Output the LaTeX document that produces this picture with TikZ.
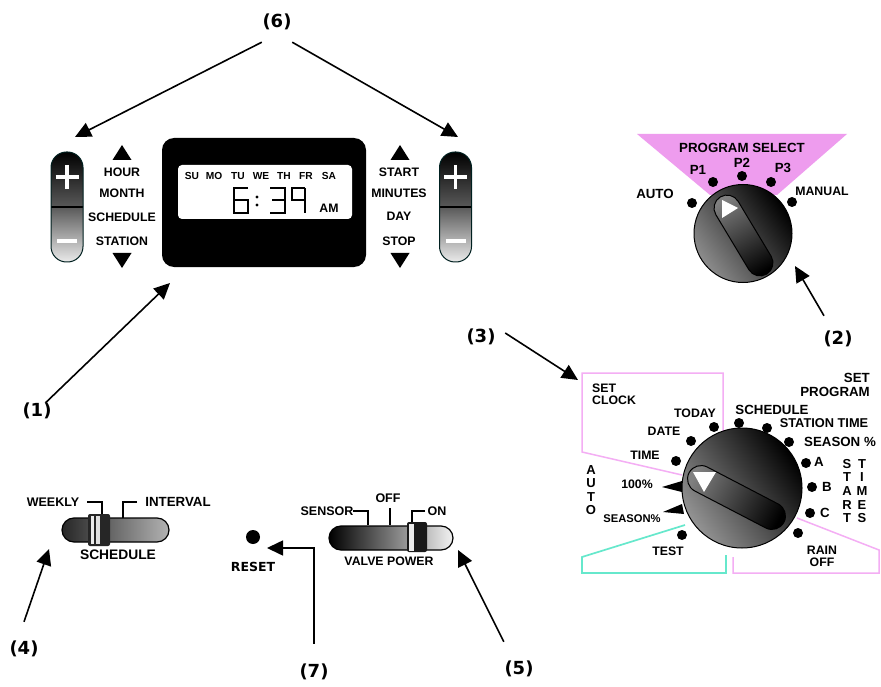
\documentclass[tikz,border=0pt]{standalone}
\usepackage{fontspec}
\setmainfont{Liberation Sans}
\newfontfamily\callfont{DejaVu Sans}
\usetikzlibrary{arrows.meta,calc}
\definecolor{pinkz}{HTML}{EE9CEE}
\definecolor{pinkl}{HTML}{F4AEF4}
\definecolor{tealz}{HTML}{66E8CC}
\tikzset{
  x=1pt,y=-1pt,
  lab/.style={inner sep=0pt,font=\fontsize{12.3}{12.3}\selectfont\bfseries},
  labb/.style={inner sep=0pt,font=\fontsize{13.3}{13.3}\selectfont\bfseries},
  labs/.style={inner sep=0pt,font=\fontsize{12.5}{12.5}\selectfont\bfseries},
  labm/.style={inner sep=0pt,font=\fontsize{13.3}{13.3}\selectfont\bfseries},
  vert/.style={inner sep=0pt,align=center,font=\fontsize{13}{13.6}\selectfont\bfseries},
  call/.style={inner sep=0pt,minimum width=30pt,minimum height=16pt,font=\callfont\fontsize{18}{18}\selectfont\bfseries},
  arr/.style={line width=1.6pt,-{Triangle[length=16pt,width=15pt]}},
  dotz/.style={fill=black,draw=none},
  tick/.style={line width=1.3pt},
  seg/.style={line width=2.1pt,line cap=butt,line join=miter},
}
\begin{document}
\begin{tikzpicture}
\useasboundingbox[fill=white] (0,0) rectangle (881,687);

% ---------- display
\node[fill=black,rounded corners=12pt,minimum width=204pt,minimum height=129pt,inner sep=0pt] (display) at (264,202.5) {};
\node[fill=white,rounded corners=4pt,minimum width=174pt,minimum height=54pt,inner sep=0pt] (lcd) at (265,192) {};
\foreach \t/\x/\n in {SU/192/a,MO/214/b,TU/238/c,WE/261/d,TH/284/e,FR/306/f,SA/329/g}
  \node[inner sep=0pt,font=\fontsize{10.2}{10.2}\selectfont\bfseries] (day\n) at (\x,176) {\t};
\draw[seg] (248,188) -- (234,188) -- (234,213) -- (248,213) -- (248,200) -- (234,200);
\fill (257,197) circle (1.6pt) (257,205) circle (1.6pt);
\draw[seg] (270,188) -- (285,188) -- (285,213) -- (270,213);
\draw[seg] (272,200) -- (285,200);
\draw[seg] (305,200) -- (292,200) -- (292,188) -- (305,188);
\draw[seg] (305,188) -- (305,213);
\node[lab] (am) at (329,208) {AM};

% ---------- left / right labels
\foreach \x/\n in {122/l,400/r}{
  \fill (\x,145) -- (\x+9.5,160) -- (\x-9.5,160) -- cycle;
  \fill (\x,268) -- (\x+9.5,253) -- (\x-9.5,253) -- cycle;
}
\node[lab] (hour) at (122,172) {HOUR};
\node[lab] (month) at (122,193) {MONTH};
\node[lab] (sched) at (122,217) {SCHEDULE};
\node[lab] (station) at (122,241) {STATION};
\node[lab] (start) at (399,172) {START};
\node[lab] (minutes) at (399,193) {MINUTES};
\node[lab] (dayl) at (399,216) {DAY};
\node[lab] (stop) at (399,241) {STOP};

% ---------- +/- rockers
\foreach \x in {51,439.5}{
  \begin{scope}
    \clip[rounded corners=15.5pt] (\x,152) rectangle (\x+32,262);
    \shade[top color=black,bottom color=black!65] (\x,152) rectangle (\x+32,207);
    \shade[top color=black!65,bottom color=black!8] (\x,207) rectangle (\x+32,262);
    \fill (\x,206) rectangle (\x+32,208);
  \end{scope}
  \draw[line width=1pt,draw=black!75!teal,rounded corners=15.5pt] (\x,152) rectangle (\x+32,262);
  \draw[white,line width=3.4pt] (\x+4.5,177) -- (\x+27.5,177) (\x+16,165) -- (\x+16,189);
  \draw[white,line width=3.2pt] (\x+6,241) -- (\x+26,241);
}

% ---------- PROGRAM SELECT dial
\fill[pinkz] (637,134) -- (847,134) -- (777,195) -- (710,195) -- cycle;
\node[labm] (psel) at (742,148) {PROGRAM SELECT};
\node[labb] (p1) at (698,170) {P1};
\node[labb] (p2) at (742,163) {P2};
\node[labb] (p3) at (783,168) {P3};
\node[labb] (auto1) at (655,194) {AUTO};
\node[lab] (manual) at (822,191) {MANUAL};
\foreach \x/\y in {713/182,742/176,771/182,692/203,792/202}
  \fill[dotz] (\x,\y) circle (5pt);
\shade[draw=black,line width=1pt,bottom color=black!45,middle color=black!65,top color=black,shading angle=-55] (743,233.5) circle (49pt);
\shade[draw=black,line width=1pt,rotate around={-59:(743.5,235.5)},rounded corners=13pt,
       top color=black,bottom color=black!50,shading angle=-149] (698.5,222.5) rectangle (788.5,248.5);
\fill[white] (722,200) -- (738,208) -- (722,218) -- cycle;

% ---------- main dial outlines
\draw[pinkl,line width=1.5pt] (682,475) -- (582,452) -- (582,373) -- (723,373) -- (723,432);
\draw[pinkl,line width=1.5pt] (797,518) -- (879,550) -- (879,573) -- (733,573) -- (733,557);
\draw[tealz,line width=1.7pt] (685,525) -- (582,557) -- (582,573) -- (726,573) -- (726,555);

\node[lab,align=left,anchor=west] (setclock) at (592,394.5) {SET\\CLOCK};
\node[labb,align=right,anchor=east] (setprog) at (870,385) {SET\\PROGRAM};
\node[lab] (today) at (695,413) {TODAY};
\node[lab] (date) at (664,431) {DATE};
\node[lab] (time) at (645,455) {TIME};
\node[labb] (schedd) at (772,410) {SCHEDULE};
\node[labb,font=\fontsize{12.8}{12.8}\selectfont\bfseries] (sttime) at (824,423) {STATION TIME};
\node[labb] (season) at (840,442) {SEASON \%};
\node[labm] (A) at (819,462) {A};
\node[labm] (B) at (827,487) {B};
\node[labm] (C) at (825,513) {C};
\node[lab,align=center] (rain) at (822,556) {RAIN\\OFF};
\node[lab] (test) at (668,551) {TEST};
\node[lab] (hundred) at (637,484) {100\%};
\node[inner sep=0pt,font=\fontsize{11.2}{11.2}\selectfont\bfseries] (seasonb) at (632,519) {SEASON\%};
\node[vert] (autov) at (591,490) {A\\U\\T\\O};
\node[vert] (startv) at (847,491) {S\\T\\A\\R\\T};
\node[vert] (timesv) at (862,491) {T\\I\\M\\E\\S};
\foreach \x/\y in {714/427,691/441,676/461,739/423,767/428,789/442,806/463,812/487,810/513,798/533,682/535}
  \fill[dotz] (\x,\y) circle (5pt);
\fill (662,487) -- (682,481) -- (682,492) -- cycle;
\fill (663,512) -- (682,504) -- (684,514) -- cycle;
\shade[draw=black,line width=1pt,bottom color=black!42,middle color=black!62,top color=black,shading angle=-55] (742,488) circle (60pt);
\shade[draw=black,line width=1pt,rotate around={-27.5:(736.5,497.5)},rounded corners=13.5pt,
       top color=black,bottom color=black!50,shading angle=-117.5] (683,484) rectangle (790,511);
\fill[white] (693,472) -- (716,472) -- (704,492) -- cycle;

% ---------- SCHEDULE slider
\shade[draw=black,line width=1.2pt,rounded corners=12pt,left color=black!85,right color=black!30] (62,518) rectangle (169,542);
\draw[tick] (87,502) -- (102,502) -- (102,515);
\draw[tick] (137,502) -- (123,502) -- (123,518);
\fill[black!85,rounded corners=2pt] (88,514) rectangle (110,546);
\fill[black!8] (91,516) rectangle (94,544);
\fill[black!12] (96,516) rectangle (99.5,544);
\node[labs] (weekly) at (53,502) {WEEKLY};
\node[labb] (interval) at (178,502) {INTERVAL};
\node[labb,font=\fontsize{13.8}{13.8}\selectfont\bfseries] (schedsw) at (118,555) {SCHEDULE};

% ---------- VALVE POWER slider
\shade[draw=black,line width=1.2pt,rounded corners=12pt,left color=black,right color=black!5] (329,526) rectangle (453,550);
\draw[tick] (353,511) -- (368,511) -- (368,525);
\draw[tick] (390,508) -- (390,525);
\draw[tick] (425,511) -- (412,511) -- (412,523);
\fill[black!90,rounded corners=2pt] (407,522) rectangle (427,552);
\fill[black!8] (408.5,523.5) rectangle (414,550.5);
\node[labs] (sensor) at (327,511) {SENSOR};
\node[labs] (offl) at (388,498) {OFF};
\node[labs] (onl) at (437,511) {ON};
\node[lab] (valve) at (389,561) {VALVE POWER};

% ---------- reset
\node[circle,fill=black,minimum size=14pt,inner sep=0pt] (resetdot) at (253,537) {};
\node[inner sep=0pt,font=\callfont\fontsize{12.5}{12.5}\selectfont\bfseries] (reset) at (253,567) {RESET};

% ---------- callouts
\node[call,minimum height=40pt] (l6) at (277,22) {(6)};
\node[call] (l1) at (37,411) {(1)};
\node[call] (l2) at (838,339) {(2)};
\node[call] (l3) at (481,337) {(3)};
\node[call] (l4) at (24,649) {(4)};
\node[call] (l5) at (519,669) {(5)};
\node[call] (l7) at (314,672) {(7)};

\coordinate (t6a) at (75,137);
\coordinate (t6b) at (458,137);
\coordinate (t1) at (170,283);
\coordinate (t2) at (795,266);
\coordinate (t3) at (578,380);
\coordinate (t4) at (49,549);
\coordinate (t5) at (458,550);
\coordinate (t7) at (267,548);

\draw[arr] (l6.south west) -- (t6a);
\draw[arr] (l6.south east) -- (t6b);
\draw[arr] (l1) -- (t1);
\draw[arr] ([shift={(-14,-15)}]l2.north) -- (t2);
\draw[arr] ([shift={(9,-4)}]l3.east) -- (t3);
\draw[arr] ([shift={(0,-19)}]l4.north) -- (t4);
\draw[arr] ([shift={(0,-19)}]l5.north west) -- (t5);
\draw[arr] ([shift={(0,-20)}]l7.north) |- (t7);
\end{tikzpicture}
\end{document}
